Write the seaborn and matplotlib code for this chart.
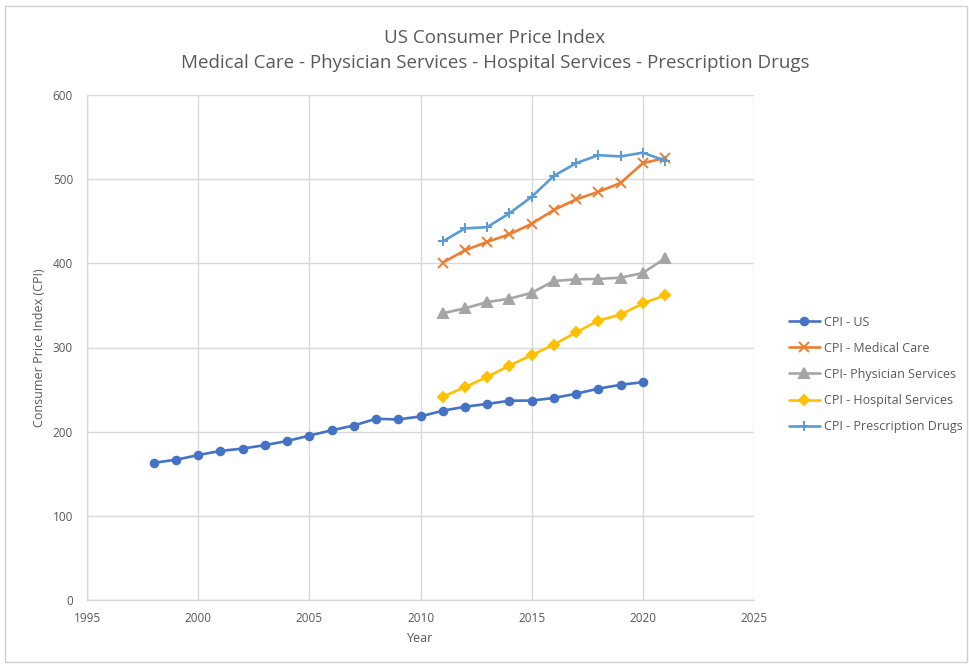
import pandas as pd
import matplotlib
matplotlib.use("Agg")
import matplotlib.pyplot as plt
import seaborn as sns

# === DATA ===
years_us = list(range(1998, 2021))
cpi_us = [163.0, 166.6, 172.2, 177.1, 179.9, 184.0, 188.9, 195.3, 201.6, 207.3,
          215.3, 214.5, 218.1, 224.9, 229.6, 233.0, 236.7, 237.0, 240.0, 245.1,
          251.1, 255.7, 258.8]

years_med = list(range(2011, 2022))
cpi_medical = [400.8, 415.5, 425.5, 434.5, 447.0, 463.5, 476.0, 485.0, 495.5, 519.0, 525.0]
cpi_physician = [340.6, 346.5, 354.0, 358.0, 365.0, 379.0, 381.0, 381.5, 383.0, 388.5, 406.0]
cpi_hospital = [241.5, 253.0, 265.0, 278.5, 291.0, 303.5, 318.0, 332.0, 339.0, 352.5, 362.0]
cpi_drugs = [426.0, 441.5, 443.0, 459.5, 479.0, 504.0, 519.0, 528.5, 527.0, 531.5, 522.0]

series_names = ["CPI - US", "CPI - Medical Care", "CPI- Physician Services",
                "CPI - Hospital Services", "CPI - Prescription Drugs"]

frames = [pd.DataFrame({"Year": years_us, "CPI": cpi_us, "Series": series_names[0]})]
for name, vals in zip(series_names[1:], [cpi_medical, cpi_physician, cpi_hospital, cpi_drugs]):
    frames.append(pd.DataFrame({"Year": years_med, "CPI": vals, "Series": name}))
df = pd.concat(frames, ignore_index=True)

# === STYLE ===
sns.set_style("white")
plt.rcParams['font.family'] = ['Open Sans', 'DejaVu Sans']
text_col = "#595959"
grid_col = "#d9d9d9"

colors = ["#4472C4", "#ED7D31", "#A5A5A5", "#FFC000", "#5B9BD5"]
markers = ["o", "x", "^", "D", "+"]
msizes = [5.5, 6.5, 6.5, 5, 7.5]

fig = plt.figure(figsize=(9.69, 6.65), dpi=100)
ax = fig.add_axes([87 / 969, 65 / 665, 667 / 969, 505 / 665])

for name, c, m, ms in zip(series_names, colors, markers, msizes):
    sns.lineplot(data=df[df["Series"] == name], x="Year", y="CPI", ax=ax,
                 color=c, marker=m, markersize=ms, linewidth=1.9,
                 markeredgecolor=c, markeredgewidth=1.4, label=name)

ax.set_xlim(1995, 2025)
ax.set_ylim(0, 600)
ax.set_xticks(range(1995, 2026, 5))
ax.set_yticks(range(0, 601, 100))
ax.grid(True, color=grid_col, linewidth=1)
for s in ["top", "right"]:
    ax.spines[s].set_visible(False)
for s in ["left", "bottom"]:
    ax.spines[s].set_color(grid_col)
    ax.spines[s].set_linewidth(1)
ax.tick_params(axis="both", colors=grid_col, labelcolor=text_col, labelsize=8.5,
               length=4, direction="out")
ax.tick_params(axis="y", pad=6)
ax.tick_params(axis="x", pad=5)

ax.set_xlabel("Year", color=text_col, fontsize=9, labelpad=5)
ax.set_ylabel("Consumer Price Index (CPI)", color=text_col, fontsize=9, labelpad=5)

fig.text(495 / 969, 1 - 38 / 665, "US Consumer Price Index", ha="center", va="center",
         fontsize=13.5, color=text_col)
fig.text(495 / 969, 1 - 63 / 665,
         "Medical Care - Physician Services - Hospital Services - Prescription Drugs",
         ha="center", va="center", fontsize=13.5, color=text_col)

leg = ax.legend(loc="center left", bbox_to_anchor=(1.035, 0.447), frameon=False,
                fontsize=9, handlelength=2.5, labelspacing=1.05, handletextpad=0.3)
for t in leg.get_texts():
    t.set_color(text_col)

# light chart-area border
fig.patches.append(plt.Rectangle((5 / 969, 3 / 665), 962 / 969, 656 / 665,
                                 transform=fig.transFigure, fill=False,
                                 edgecolor="#d0d0d0", linewidth=1))

fig.savefig("out.png", dpi=100)
